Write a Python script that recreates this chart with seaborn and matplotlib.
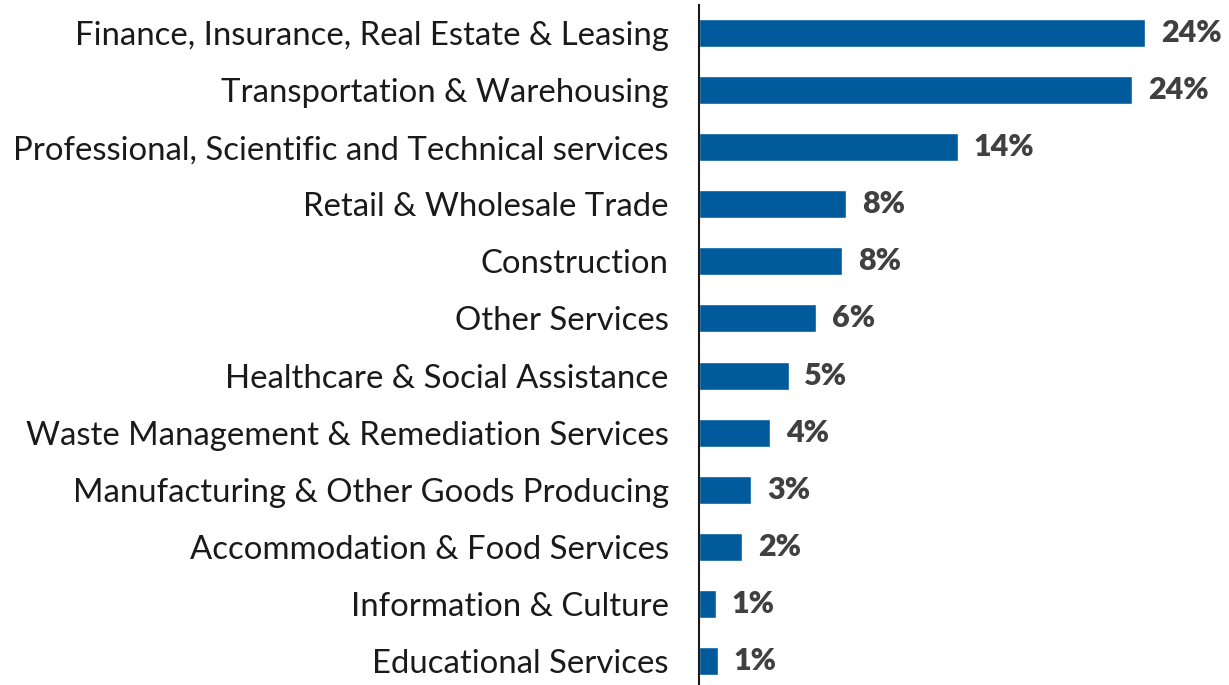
import matplotlib
matplotlib.use('Agg')
import matplotlib.pyplot as plt
import seaborn as sns
import pandas as pd

industries = [
    'Finance, Insurance, Real Estate & Leasing',
    'Transportation & Warehousing',
    'Professional, Scientific and Technical services',
    'Retail & Wholesale Trade',
    'Construction',
    'Other Services',
    'Healthcare & Social Assistance',
    'Waste Management & Remediation Services',
    'Manufacturing & Other Goods Producing',
    'Accommodation & Food Services',
    'Information & Culture',
    'Educational Services',
]
shares = [24.0, 23.3, 13.9, 7.9, 7.7, 6.3, 4.8, 3.8, 2.8, 2.3, 0.9, 1.0]
share_labels = ['24%', '24%', '14%', '8%', '8%', '6%', '5%', '4%', '3%', '2%', '1%', '1%']

df = pd.DataFrame({'industry': industries, 'share': shares})

sns.set_style('white')
plt.rcParams['font.family'] = ['Lato', 'DejaVu Sans']

fig = plt.figure(figsize=(12.29, 6.85), dpi=100)
ax = fig.add_axes([0.569, 0.0, 0.431, 0.9927])

sns.barplot(df, x='share', y='industry', color='#005A9C', width=0.49,
            saturation=1, ax=ax)

# value labels at the end of each bar
for i, (v, lab) in enumerate(zip(shares, share_labels)):
    ax.text(v + 0.85, i, lab, va='center', ha='left', fontsize=22,
            fontweight='heavy', color='#404040')

ax.set_xlim(0, 28.5)
ax.set_ylim(11.42, -0.49)
ax.set_xlabel('')
ax.set_ylabel('')
ax.set_xticks([])
ax.tick_params(axis='y', length=0, pad=22, labelsize=23.7, labelcolor='#1a1a1a')
for s in ['top', 'right', 'bottom']:
    ax.spines[s].set_visible(False)
ax.spines['left'].set_color('#1a1a1a')
ax.spines['left'].set_linewidth(1.5)

fig.savefig('out.png', dpi=100)
